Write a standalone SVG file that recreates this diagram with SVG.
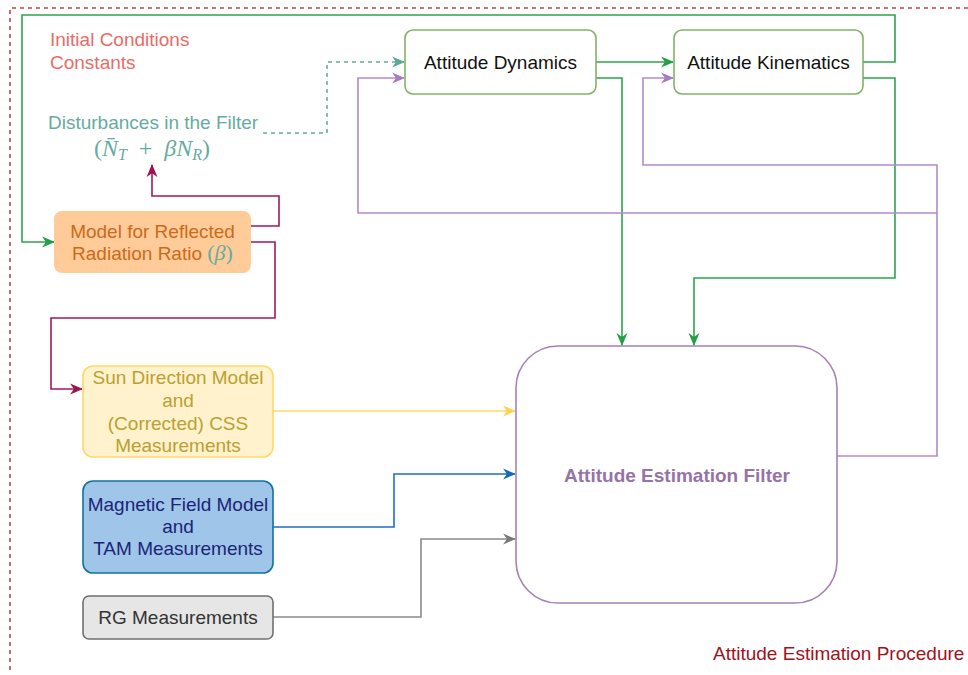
<svg xmlns="http://www.w3.org/2000/svg" width="968" height="675" viewBox="0 0 968 675">
<style>
text{font-family:"Liberation Sans",Arial,sans-serif;font-size:19px}
.c{fill:none;stroke-width:1.6}
.g{stroke:#2DA44E}.p{stroke:#B28BCB}.m{stroke:#A3195B}.t{stroke:#67AB9F;stroke-dasharray:4 4}
.y{stroke:#FFD966}.b{stroke:#1F6FC5}.k{stroke:#8A8A8A}
.mid{text-anchor:middle}
</style>
<defs>
<marker id="ag" viewBox="0 0 12 12" refX="11" refY="6" markerWidth="13" markerHeight="13" markerUnits="userSpaceOnUse" orient="auto"><path d="M0,1 L12,6 L0,11 L3.5,6 z" fill="#22A043"/></marker>
<marker id="ap" viewBox="0 0 12 12" refX="11" refY="6" markerWidth="13" markerHeight="13" markerUnits="userSpaceOnUse" orient="auto"><path d="M0,1 L12,6 L0,11 L3.5,6 z" fill="#A87CC4"/></marker>
<marker id="am" viewBox="0 0 12 12" refX="11" refY="6" markerWidth="13" markerHeight="13" markerUnits="userSpaceOnUse" orient="auto"><path d="M0,1 L12,6 L0,11 L3.5,6 z" fill="#9C1450"/></marker>
<marker id="at" viewBox="0 0 12 12" refX="11" refY="6" markerWidth="13" markerHeight="13" markerUnits="userSpaceOnUse" orient="auto"><path d="M0,1 L12,6 L0,11 L3.5,6 z" fill="#5FA898"/></marker>
<marker id="ay" viewBox="0 0 12 12" refX="11" refY="6" markerWidth="13" markerHeight="13" markerUnits="userSpaceOnUse" orient="auto"><path d="M0,1 L12,6 L0,11 L3.5,6 z" fill="#FFD24D"/></marker>
<marker id="ab" viewBox="0 0 12 12" refX="11" refY="6" markerWidth="13" markerHeight="13" markerUnits="userSpaceOnUse" orient="auto"><path d="M0,1 L12,6 L0,11 L3.5,6 z" fill="#1A66BF"/></marker>
<marker id="ak" viewBox="0 0 12 12" refX="11" refY="6" markerWidth="13" markerHeight="13" markerUnits="userSpaceOnUse" orient="auto"><path d="M0,1 L12,6 L0,11 L3.5,6 z" fill="#7A7A7A"/></marker>
</defs>
<rect width="968" height="675" fill="#FFFFFF"/>
<path d="M10,670 V8 H968" fill="none" stroke="#C0474A" stroke-width="1.6" stroke-dasharray="4 4"/>

<g id="connectors">
<path class="c g" d="M863,62 H895 V15 H22 V242 H54" marker-end="url(#ag)"/>
<path class="c g" d="M596,62 H673" marker-end="url(#ag)"/>
<path class="c g" d="M596,78 H622 V345" marker-end="url(#ag)"/>
<path class="c g" d="M863,78 H895 V278 H694 V345" marker-end="url(#ag)"/>
<path class="c p" d="M837,456 H937 V165 H643 V78 H673" marker-end="url(#ap)"/>
<path class="c p" d="M937,213 H358 V78 H404" marker-end="url(#ap)"/>
<path class="c t" d="M263,133 H327 V62 H404" marker-end="url(#at)"/>
<path class="c m" d="M251,226 H279 V196 H152 V165" marker-end="url(#am)"/>
<path class="c m" d="M251,242 H275 V318 H51 V389 H82" marker-end="url(#am)"/>
<path class="c y" d="M273,411 H515" marker-end="url(#ay)"/>
<path class="c b" d="M273,527 H394 V474 H515" marker-end="url(#ab)"/>
<path class="c k" d="M273,617 H421 V539 H515" marker-end="url(#ak)"/>
</g>

<g id="initial-conditions">
<text x="50" y="46" fill="#EA6B66">Initial Conditions</text>
<text x="50" y="69" fill="#EA6B66">Constants</text>
</g>

<g id="disturbances">
<text x="48" y="129" fill="#67AB9F">Disturbances in the Filter</text>
<text x="152" y="156" class="mid" fill="#67AB9F" style="font-family:'Liberation Serif','DejaVu Serif',serif;font-size:24px">(<tspan font-style="italic">N&#772;</tspan><tspan font-style="italic" font-size="16" dy="4">T</tspan><tspan dy="-4">&#8194;+&#8194;</tspan><tspan font-style="italic">βN</tspan><tspan font-style="italic" font-size="16" dy="4">R</tspan><tspan dy="-4">)</tspan></text>
</g>

<g id="attitude-dynamics">
<rect x="405" y="30" width="191" height="64" rx="8" fill="#FFFFFF" stroke="#82B366" stroke-width="1.6"/>
<text x="500.5" y="69" class="mid" fill="#111">Attitude Dynamics</text>
</g>

<g id="attitude-kinematics">
<rect x="674" y="30" width="189" height="64" rx="8" fill="#FFFFFF" stroke="#82B366" stroke-width="1.6"/>
<text x="768.5" y="69" class="mid" fill="#111">Attitude Kinematics</text>
</g>

<g id="model-reflected">
<rect x="54" y="211" width="197" height="62" rx="8" fill="#FFCC99"/>
<text x="152.5" y="238" class="mid" fill="#CC6A1A">Model for Reflected</text>
<text x="152.5" y="260" class="mid" fill="#CC6A1A">Radiation Ratio <tspan fill="#67AB9F" style="font-family:'Liberation Serif','DejaVu Serif',serif;font-size:22px">(<tspan font-style="italic">β</tspan>)</tspan></text>
</g>

<g id="sun-direction">
<rect x="83" y="366" width="190" height="91" rx="10" fill="#FFF2CC" stroke="#FFD966" stroke-width="1.6"/>
<text x="178" y="384" class="mid" fill="#BBA032">Sun Direction Model</text>
<text x="178" y="407" class="mid" fill="#BBA032">and</text>
<text x="178" y="430" class="mid" fill="#BBA032">(Corrected) CSS</text>
<text x="178" y="452" class="mid" fill="#BBA032">Measurements</text>
</g>

<g id="magnetic-field">
<rect x="83" y="481" width="190" height="92" rx="10" fill="#9FC5E8" stroke="#10739E" stroke-width="1.6"/>
<text x="178" y="511" class="mid" fill="#1C2478">Magnetic Field Model</text>
<text x="178" y="533" class="mid" fill="#1C2478">and</text>
<text x="178" y="555" class="mid" fill="#1C2478">TAM Measurements</text>
</g>

<g id="rg-measurements">
<rect x="83" y="596" width="190" height="43" rx="6" fill="#E6E6E6" stroke="#707070" stroke-width="1.6"/>
<text x="178" y="624" class="mid" fill="#333">RG Measurements</text>
</g>

<g id="estimation-filter">
<rect x="516" y="346" width="321" height="257" rx="42" fill="#FFFFFF" stroke="#A680B8" stroke-width="1.6"/>
<text x="677" y="482" class="mid" fill="#9673A6" font-weight="bold">Attitude Estimation Filter</text>
</g>

<g id="procedure-label">
<text x="713" y="660" fill="#A2121C">Attitude Estimation Procedure</text>
</g>
</svg>
